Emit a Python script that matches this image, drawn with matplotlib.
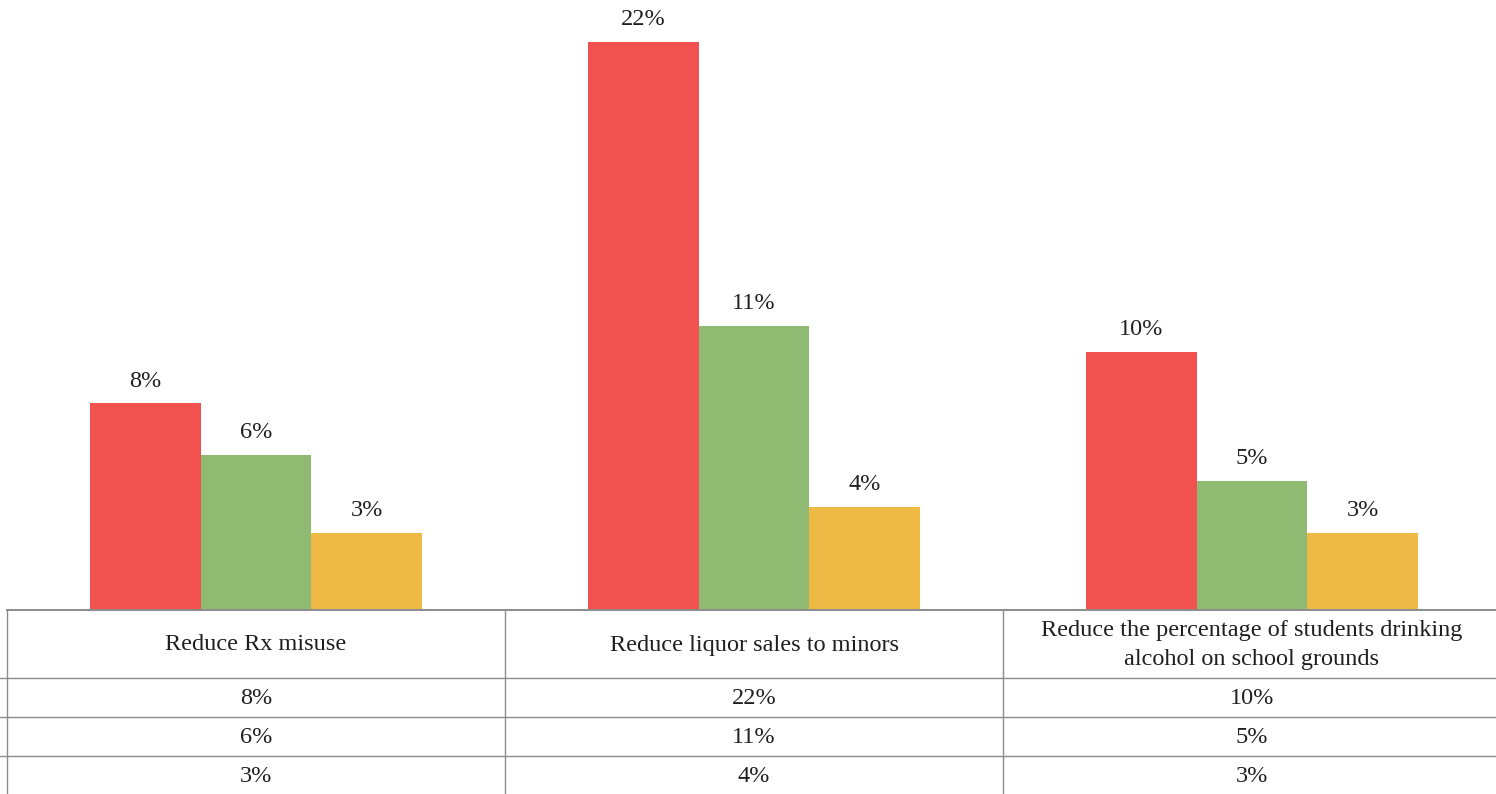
import numpy as np
import matplotlib.pyplot as plt

# ---------------------------------------------------------------------------
categories = ['Reduce Rx misuse',
              'Reduce liquor sales to minors',
              'Reduce the percentage of students drinking\nalcohol on school grounds']
series_a = [0.08, 0.22, 0.10]
series_b = [0.06, 0.11, 0.05]
series_c = [0.03, 0.04, 0.03]
colors = ['#F15250', '#8EBB71', '#EFB946']
line_color = '#8c8c8c'
text_color = '#1f1f1f'
fs = 17.5
# ---------------------------------------------------------------------------

plt.rcParams['font.family'] = ['Liberation Serif', 'DejaVu Serif']

W, H = 1496, 794
fig = plt.figure(figsize=(W / 100, H / 100), dpi=100)

# bar area: x from 7 px to 1501 px, baseline at 610 px
left = 7 / W
width = 1494 / W
base = (H - 610) / H
px_per_unit = 25.82 * 100  # pixels per 1.0 (100%)
ymax = 0.24
ax = fig.add_axes([left, base, width, ymax * px_per_unit / H])

x = np.arange(len(categories))
bw = 0.222
all_series = [series_a, series_b, series_c]
for i, (vals, c) in enumerate(zip(all_series, colors)):
    pos = x + (i - 1) * bw
    ax.bar(pos, vals, width=bw, color=c, linewidth=0)
    for p, v in zip(pos, vals):
        ax.annotate(f'{v:.0%}', (p, v), xytext=(0, 16), textcoords='offset points',
                    ha='center', va='center', fontsize=fs, color=text_color)

ax.set_xlim(-0.5, len(categories) - 0.5)
ax.set_ylim(0, ymax)
ax.axis('off')

# data table underneath
row_h = [68, 39, 39, 39]
tbl_h = sum(row_h)
tax = fig.add_axes([left, base - tbl_h / H, width, tbl_h / H])
tax.set_xlim(-0.5, len(categories) - 0.5)
tax.set_ylim(tbl_h, 0)
tax.axis('off')

edges = np.cumsum([0] + row_h)
ext = 7 / 498  # row header column, mostly outside the figure
tax.plot([-0.5, len(categories) - 0.5], [0, 0], color=line_color, lw=1.4,
         clip_on=False)
for e in edges[1:-1]:
    tax.plot([-0.5 - ext, len(categories) - 0.5], [e, e], color=line_color,
             lw=1.0, clip_on=False)
for k in range(len(categories) + 1):
    tax.plot([k - 0.5, k - 0.5], [0, tbl_h], color=line_color, lw=1.0,
             clip_on=False)

for j, cat in enumerate(categories):
    tax.text(j, row_h[0] / 2 + 1, cat, ha='center', va='center', fontsize=fs,
             color=text_color, linespacing=1.45)
    for r, vals in enumerate(all_series):
        yc = (edges[r + 1] + edges[r + 2]) / 2 + 1
        tax.text(j, yc, f'{vals[j]:.0%}', ha='center', va='center',
                 fontsize=fs, color=text_color)

fig.savefig('out.png', dpi=100)
plt.close(fig)
